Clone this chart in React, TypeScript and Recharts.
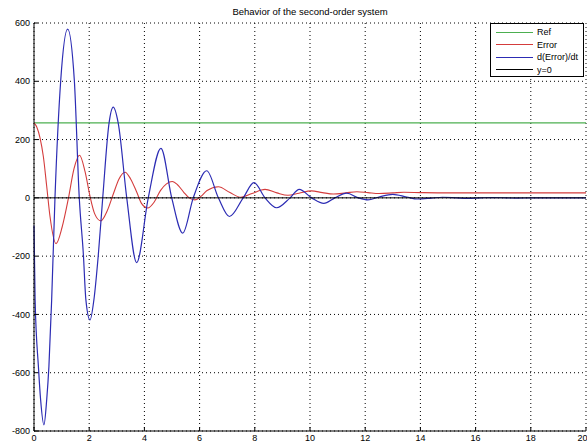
import React from "react";
import { LineChart, Line, XAxis, YAxis, CartesianGrid } from "recharts";

// time axis ticks and value axis ticks
const xTicks = [0, 2, 4, 6, 8, 10, 12, 14, 16, 18, 20];
const yTicks = [-800, -600, -400, -200, 0, 200, 400, 600];

// reference input (constant)
const refSeries = [
  { t: 0, v: 257 },
  { t: 20, v: 257 },
];

// error signal
const errorSeries = [
  { t: 0, v: 257 }, { t: 0.1, v: 243 }, { t: 0.22, v: 205 }, { t: 0.34, v: 141 },
  { t: 0.46, v: 40 }, { t: 0.58, v: -64 }, { t: 0.8, v: -157 }, { t: 1.02, v: -100 },
  { t: 1.25, v: 0 }, { t: 1.45, v: 100 }, { t: 1.65, v: 146 }, { t: 1.85, v: 90 },
  { t: 2.03, v: 5 }, { t: 2.2, v: -55 }, { t: 2.42, v: -79 }, { t: 2.65, v: -45 },
  { t: 2.88, v: 15 }, { t: 3.08, v: 65 }, { t: 3.3, v: 88 }, { t: 3.5, v: 65 },
  { t: 3.72, v: 20 }, { t: 3.9, v: -20 }, { t: 4.12, v: -35 }, { t: 4.35, v: -15 },
  { t: 4.58, v: 25 }, { t: 4.8, v: 48 }, { t: 5.01, v: 56 }, { t: 5.2, v: 45 },
  { t: 5.42, v: 20 }, { t: 5.62, v: 0 }, { t: 5.83, v: -7 }, { t: 6.05, v: 5 },
  { t: 6.27, v: 25 }, { t: 6.68, v: 38 }, { t: 7.1, v: 18 }, { t: 7.5, v: 2 },
  { t: 7.9, v: 15 }, { t: 8.37, v: 29 }, { t: 8.8, v: 17 }, { t: 9.2, v: 9 },
  { t: 9.6, v: 16 }, { t: 10.05, v: 24 }, { t: 10.45, v: 18 }, { t: 10.85, v: 13 },
  { t: 11.3, v: 17 }, { t: 11.7, v: 21 }, { t: 12.1, v: 18 }, { t: 12.5, v: 15 },
  { t: 13.0, v: 17 }, { t: 13.4, v: 19 }, { t: 14, v: 18 }, { t: 15, v: 17 },
  { t: 20, v: 17 },
];

// derivative of the error
const dErrorSeries = [
  { t: 0, v: -95 }, { t: 0.04, v: -350 }, { t: 0.16, v: -579 }, { t: 0.24, v: -693 },
  { t: 0.36, v: -779 }, { t: 0.46, v: -693 }, { t: 0.54, v: -579 }, { t: 0.64, v: -350 },
  { t: 0.76, v: 0 }, { t: 0.97, v: 405 }, { t: 1.22, v: 579 }, { t: 1.46, v: 405 },
  { t: 1.64, v: 0 }, { t: 1.79, v: -196 }, { t: 1.88, v: -350 }, { t: 2.03, v: -419 },
  { t: 2.17, v: -350 }, { t: 2.33, v: -196 }, { t: 2.49, v: 0 }, { t: 2.72, v: 257 },
  { t: 2.87, v: 311 }, { t: 3.05, v: 257 }, { t: 3.36, v: 0 }, { t: 3.72, v: -222 },
  { t: 4.14, v: 0 }, { t: 4.6, v: 170 }, { t: 4.99, v: 0 }, { t: 5.39, v: -121 },
  { t: 5.77, v: 0 }, { t: 6.26, v: 93 }, { t: 6.68, v: 0 }, { t: 7.08, v: -64 },
  { t: 7.58, v: 0 }, { t: 7.97, v: 52 }, { t: 8.37, v: 0 }, { t: 8.79, v: -34 },
  { t: 9.28, v: 0 }, { t: 9.61, v: 29 }, { t: 10.06, v: 0 }, { t: 10.5, v: -19 },
  { t: 10.9, v: 0 }, { t: 11.33, v: 16 }, { t: 11.75, v: 0 }, { t: 12.1, v: -7 },
  { t: 12.5, v: 3 }, { t: 13.0, v: 12 }, { t: 13.5, v: 3 }, { t: 13.9, v: -4 },
  { t: 14.4, v: -1 }, { t: 14.8, v: 2 }, { t: 15.3, v: 0 }, { t: 15.7, v: -2 },
  { t: 16.2, v: 0 }, { t: 16.6, v: 1 }, { t: 17.1, v: 0 }, { t: 17.5, v: -1 },
  { t: 18.0, v: 0 }, { t: 20, v: 0 },
];

const zeroSeries = [
  { t: 0, v: 0 },
  { t: 20, v: 0 },
];

const legendNames = ["Ref", "Error", "d(Error)/dt", "y=0"];
const legendColors = ["#4caf50", "#d43c3c", "#2c2cb4", "#000000"];

const FONT = '"Liberation Sans", Arial, sans-serif';

const MatlabLegend = () => (
  <div
    style={{
      position: "absolute",
      left: 490,
      top: 23,
      boxSizing: "border-box",
      width: 94,
      height: 54,
      border: "1px solid #000",
      background: "#fff",
      padding: "2px 0 0 5px",
      fontFamily: FONT,
      fontSize: 9,
    }}
  >
    {legendNames.map((name, i) => (
      <div key={name} style={{ display: "flex", alignItems: "center", height: 12.5, lineHeight: "12px" }}>
        <span style={{ display: "inline-block", flex: "none", width: 37, height: 1.2, background: legendColors[i], marginRight: 4 }} />
        <span style={{ color: "#000" }}>{name}</span>
      </div>
    ))}
  </div>
);

export default function App() {
  return (
    <div style={{ position: "absolute", left: 0, top: 0, width: 587, height: 447, background: "#fff", overflow: "hidden" }}>
      <div
        style={{
          position: "absolute",
          top: 6,
          left: 0,
          width: 620,
          textAlign: "center",
          fontFamily: FONT,
          fontSize: 9.5,
          lineHeight: "12px",
          color: "#000",
        }}
      >
        Behavior of the second-order system
      </div>
      <LineChart width={587} height={447} margin={{ top: 23, right: 1, bottom: 0, left: 0 }}>
        <CartesianGrid stroke="#000" strokeDasharray="1 3" strokeWidth={1} />
        <XAxis
          dataKey="t"
          type="number"
          domain={[0, 20]}
          ticks={xTicks}
          allowDuplicatedCategory={false}
          height={16}
          tickSize={-4}
          tickMargin={8}
          stroke="#000"
          tick={{ fill: "#000", fontSize: 9, fontFamily: FONT }}
        />
        <XAxis
          xAxisId="top"
          orientation="top"
          type="number"
          domain={[0, 20]}
          ticks={xTicks}
          height={0}
          tickSize={-4}
          tick={false}
          stroke="#000"
        />
        <YAxis
          type="number"
          domain={[-800, 600]}
          ticks={yTicks}
          width={34}
          tickSize={-4}
          tickMargin={8}
          stroke="#000"
          tick={{ fill: "#000", fontSize: 9, fontFamily: FONT }}
        />
        <YAxis
          yAxisId="r"
          orientation="right"
          type="number"
          domain={[-800, 600]}
          ticks={yTicks}
          width={0}
          tickSize={-4}
          tick={false}
          stroke="#000"
        />
        <Line data={refSeries} dataKey="v" name="Ref" stroke={legendColors[0]} strokeWidth={1.2} dot={false} isAnimationActive={false} />
        <Line data={errorSeries} dataKey="v" name="Error" type="monotone" stroke={legendColors[1]} strokeWidth={1.1} dot={false} isAnimationActive={false} />
        <Line data={dErrorSeries} dataKey="v" name="d(Error)/dt" type="monotone" stroke={legendColors[2]} strokeWidth={1.2} dot={false} isAnimationActive={false} />
        <Line data={zeroSeries} dataKey="v" name="y=0" stroke={legendColors[3]} strokeWidth={1} dot={false} isAnimationActive={false} />
      </LineChart>
      <MatlabLegend />
    </div>
  );
}
